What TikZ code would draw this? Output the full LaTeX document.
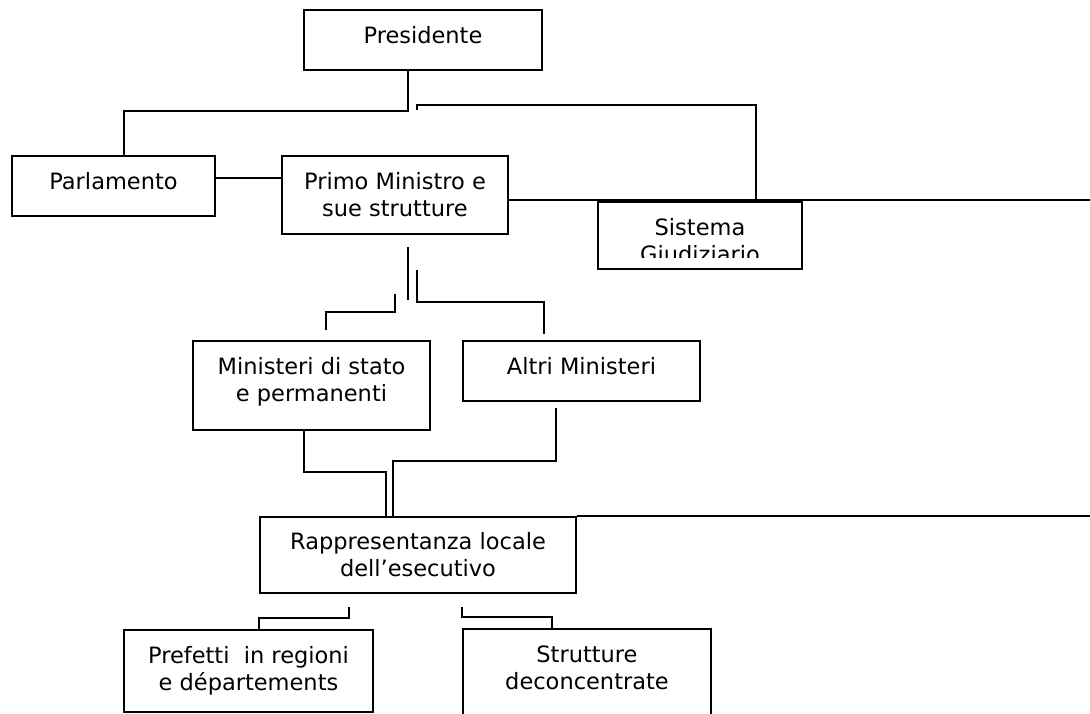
\documentclass[tikz,border=0pt]{standalone}
\usepackage{fontspec}
\setmainfont{DejaVu Sans}
\usetikzlibrary{positioning}

\begin{document}
\begin{tikzpicture}[x=1pt, y=-1pt, line width=2pt,
    font=\fontsize{22.5}{27}\selectfont,
    box/.style={draw, anchor=north west, inner sep=0pt},
    txt/.style={align=center, inner sep=0pt}]

  \clip (0,0) rectangle (1090,713);

  % top level
  \node[box, minimum width=238pt, minimum height=60pt] (pres) at (303,9) {};
  \node[txt, below=16.5pt of pres.north] (pres-t) {Presidente};

  \node[box, minimum width=203pt, minimum height=60pt] (parl) at (11,155) {};
  \node[txt, below=16.5pt of parl.north] (parl-t) {Parlamento};

  \node[box, minimum width=226pt, minimum height=78pt] (pm) at (281,155) {};
  \node[txt, below=16.5pt of pm.north] (pm-t) {Primo Ministro e\\sue strutture};

  \node[box, minimum width=204pt, minimum height=67pt] (sist) at (597,201) {};
  \begin{scope}
    \clip (597,201) rectangle (801,257.5);
    \node[txt, below=16pt of sist.north] (sist-t) {Sistema\\Giudiziario};
  \end{scope}

  % ministeri
  \node[box, minimum width=237pt, minimum height=89pt] (mini) at (192,340) {};
  \node[txt, below=16.5pt of mini.north] (mini-t) {Ministeri di stato\\e permanenti};

  \node[box, minimum width=237pt, minimum height=60pt] (altri) at (462,340) {};
  \node[txt, below=16.5pt of altri.north] (altri-t) {Altri Ministeri};

  % livello locale
  \node[box, minimum width=316pt, minimum height=76pt] (rapp) at (259,516) {};
  \node[txt, below=15pt of rapp.north] (rapp-t) {Rappresentanza locale\\dell’esecutivo};

  \node[box, minimum width=249pt, minimum height=82pt] (pref) at (123,629) {};
  \node[txt, below=16.5pt of pref.north] (pref-t) {Prefetti\ \ in regioni\\e départements};

  \node[box, minimum width=248pt, minimum height=110pt] (strut) at (462,628) {};
  \node[txt, below=16.5pt of strut.north] (strut-t) {Strutture\\deconcentrate};

  % connectors
  \draw (pres.south -| 408,0) |- (124,111) -- (parl.north -| 124,0);
  \draw (417,110) |- (756,104.5) -- (sist.north -| 756,0);
  \draw (parl.east |- 0,178) -- (pm.west |- 0,178);
  \draw (pm.east |- 0,200) -- (1090,200);

  \draw (407.5,247) -- (407.5,300);
  \draw (395,294) |- (326,312) -- (326,330);
  \draw (417,270) |- (544,302) -- (544,334);

  \draw (mini.south -| 304,0) |- (386,472) -- (rapp.north -| 386,0);
  \draw (556,408) |- (393,461) -- (rapp.north -| 393,0);
  \draw (rapp.north east) -- (1090,516);

  \draw (349,607) |- (259,618) -- (pref.north -| 259,0);
  \draw (462,607) |- (552,617) -- (strut.north -| 552,0);
\end{tikzpicture}
\end{document}
